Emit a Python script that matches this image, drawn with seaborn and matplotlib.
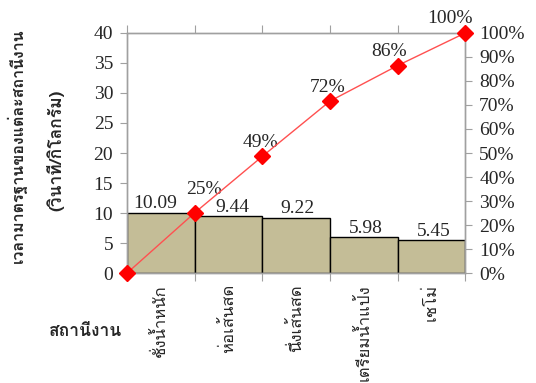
import matplotlib
matplotlib.use('Agg')
import matplotlib.pyplot as plt
import matplotlib.font_manager as fm
from matplotlib.ft2font import FT2Font
from matplotlib.ticker import FixedLocator, FuncFormatter
import numpy as np
import pandas as pd
import seaborn as sns

stations = ['ชั่งน้ำหนัก', 'ห่อเส้นสด', 'นึ่งเส้นสด', 'เตรียมน้ำแป้ง', 'เชโม่']
std_time = [10.09, 9.44, 9.22, 5.98, 5.45]
cum_pct = [0, 25.1, 48.6, 71.6, 86.4, 100]
cum_labels = ['', '25%', '49%', '72%', '86%', '100%']
ylabel_main = 'เวลามาตรฐานของแต่ละสถานีงาน'
ylabel_unit = '(วินาที/กิโลกรัม)'
xlabel = 'สถานีงาน'


def thai_font():
    # pick any installed font that has Thai glyphs
    for f in fm.fontManager.ttflist:
        try:
            if 0x0E01 in FT2Font(f.fname).get_charmap():
                return f.name
        except Exception:
            pass
    return 'DejaVu Sans'


def serif_font():
    names = {f.name for f in fm.fontManager.ttflist}
    for n in ['Liberation Serif', 'Tinos', 'Times New Roman', 'Nimbus Roman',
              'DejaVu Serif']:
        if n in names:
            return n
    return 'serif'


sns.set_style('white')
plt.rcParams['font.family'] = [serif_font(), 'DejaVu Serif']
thai = [thai_font(), 'DejaVu Sans']

df = pd.DataFrame({'station': stations, 'time': std_time})

fig = plt.figure(figsize=(5.36, 3.83), dpi=100)
ax = fig.add_axes([0.237, 0.287, 0.631, 0.627])

sns.barplot(data=df, x='station', y='time', color='#C4BD97', width=1.0,
            edgecolor='black', linewidth=1.0, saturation=1, ax=ax)
ax.set_xlim(-0.5, len(stations) - 0.5)
ax.set_ylim(0, 40)
ax.set_yticks(np.arange(0, 41, 5))
ax.set_xlabel('')
ax.set_ylabel('')

# ticks at bar edges, labels at bar centres
edges = np.arange(len(stations) + 1) - 0.5
ax.xaxis.set_major_locator(FixedLocator(edges))
ax.xaxis.set_major_formatter(FuncFormatter(lambda v, p: ''))
ax.xaxis.set_minor_locator(FixedLocator(np.arange(len(stations))))
ax.set_xticklabels(stations, minor=True, rotation=90, va='top',
                   family=thai, fontsize=12)
ax.tick_params(axis='x', which='major', length=6, color='#A0A0A0',
               direction='out', top=True, bottom=True)
ax.tick_params(axis='x', which='minor', length=0, pad=8)
ax.tick_params(axis='y', length=5, color='#A0A0A0', direction='out',
               left=True, labelsize=14, pad=5)

for s in ax.spines.values():
    s.set_color('#A0A0A0')
    s.set_linewidth(1.0)

# small nudges so the labels clear the cumulative line, as in the original
bar_dx = [-0.08, 0.05, 0.02, 0.03, 0.03]
for i, (v, dx) in enumerate(zip(std_time, bar_dx)):
    ax.text(i + dx, v + 0.1, f'{v:.2f}', ha='center', va='bottom',
            fontsize=14)

ax2 = ax.twinx()
ax2.plot(edges, cum_pct, color='#FF5050', linewidth=1.0, marker='D',
         markersize=8, markerfacecolor='red', markeredgecolor='red',
         clip_on=False, zorder=5)
ax2.set_ylim(0, 100)
ax2.set_yticks(np.arange(0, 101, 10))
ax2.yaxis.set_major_formatter(FuncFormatter(lambda v, p: f'{v:.0f}%'))
ax2.tick_params(axis='y', length=5, color='#A0A0A0', direction='out',
                right=True, labelsize=14, pad=5)
for s in ax2.spines.values():
    s.set_color('#A0A0A0')
    s.set_linewidth(1.0)

pct_dx = [0, 0.13, -0.03, -0.04, -0.12, -0.22]
pct_dy = [0, 6, 2.3, 2.3, 2.3, 2.3]
for x, y, t, dx, dy in zip(edges, cum_pct, cum_labels, pct_dx, pct_dy):
    if t:
        ax2.text(x + dx, y + dy, t, ha='center', va='bottom', fontsize=14,
                 clip_on=False)

fig.text(0.032, 0.62, ylabel_main, rotation=90, ha='center', va='center',
         family=thai, fontweight='bold', fontsize=11.5)
fig.text(0.103, 0.608, ylabel_unit, rotation=90, ha='center', va='center',
         family=thai, fontweight='bold', fontsize=12.5)
fig.text(0.159, 0.135, xlabel, ha='center', va='center',
         family=thai, fontweight='bold', fontsize=12.5)

fig.savefig('out.png', dpi=100)
